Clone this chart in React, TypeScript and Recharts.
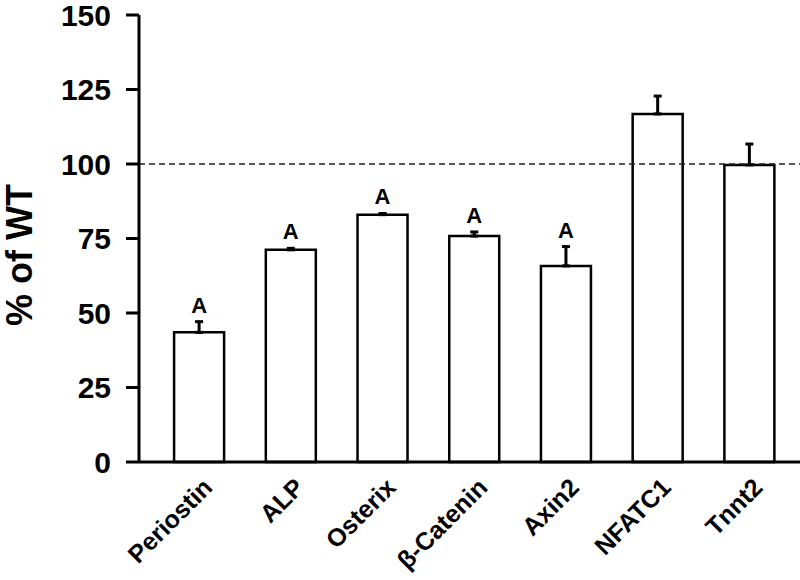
import React from 'react';
import { BarChart, Bar, XAxis, YAxis, ErrorBar, ReferenceLine, LabelList, Label } from 'recharts';

const categories = ['Periostin', 'ALP', 'Osterix', 'β-Catenin', 'Axin2', 'NFATC1', 'Tnnt2'];
const means = [43.5, 71.2, 83.0, 75.8, 65.8, 116.8, 99.7];
const sems = [3.6, 0.5, 0.4, 1.4, 6.5, 6.0, 7.0];
const sigLabels = ['A', 'A', 'A', 'A', 'A', '', ''];
const yTicks = [0, 25, 50, 75, 100, 125, 150];

const data = categories.map((name, i) => ({
  name,
  value: means[i],
  err: [0, sems[i]],
  sig: sigLabels[i],
}));

const FONT = '"Liberation Sans", Arial, Helvetica, sans-serif';

const renderXTick = (props: any) => {
  const { x, y, payload } = props;
  return (
    <g transform={`translate(${x + 15},${y + 27}) rotate(-45)`}>
      <text
        x={0}
        y={0}
        textAnchor="end"
        fontSize={25}
        fontWeight="bold"
        fontFamily={FONT}
        fill="#000"
      >
        {payload.value}
      </text>
    </g>
  );
};

const SigLabel = (props: any) => {
  const { x, y, width, height, index } = props;
  const label = sigLabels[index];
  if (!label) return null;
  const ppu = height / means[index];
  const top = y - sems[index] * ppu;
  return (
    <text
      x={x + width / 2}
      y={top - 9}
      textAnchor="middle"
      fontSize={22}
      fontWeight="bold"
      fontFamily={FONT}
      fill="#000"
    >
      {label}
    </text>
  );
};

const YLabel = () => (
  <text
    transform="translate(32,255) rotate(-90)"
    textAnchor="middle"
    fontSize={36}
    fontWeight="bold"
    fontFamily={FONT}
    fill="#000"
  >
    % of WT
  </text>
);

export default function App() {
  return (
    <div style={{ position: 'absolute', left: 0, top: 0, background: '#fff' }}>
      <BarChart
        width={800}
        height={580}
        data={data}
        margin={{ top: 15, right: 0, left: 0, bottom: 0 }}
        barCategoryGap="23%"
      >
        <XAxis
          dataKey="name"
          height={118}
          padding={{ left: 14, right: 5 }}
          axisLine={{ stroke: '#000', strokeWidth: 3 }}
          tickLine={false}
          tickSize={0}
          tickMargin={0}
          tick={renderXTick}
          interval={0}
        />
        <YAxis
          width={139}
          domain={[0, 150]}
          ticks={yTicks}
          interval={0}
          axisLine={{ stroke: '#000', strokeWidth: 3 }}
          tickLine={{ stroke: '#000', strokeWidth: 3 }}
          tickSize={13}
          tickMargin={15}
          tick={{ fontSize: 30, fontWeight: 'bold', fontFamily: FONT, fill: '#000' }}
        >
          <Label content={<YLabel />} />
        </YAxis>
        <ReferenceLine y={100} stroke="#222" strokeWidth={1.5} strokeDasharray="6 4" />
        <Bar dataKey="value" fill="#fff" stroke="#000" strokeWidth={2.5} isAnimationActive={false}>
          <ErrorBar dataKey="err" width={4} stroke="#000" strokeWidth={3} direction="y" />
          <LabelList dataKey="sig" content={<SigLabel />} />
        </Bar>
      </BarChart>
    </div>
  );
}
